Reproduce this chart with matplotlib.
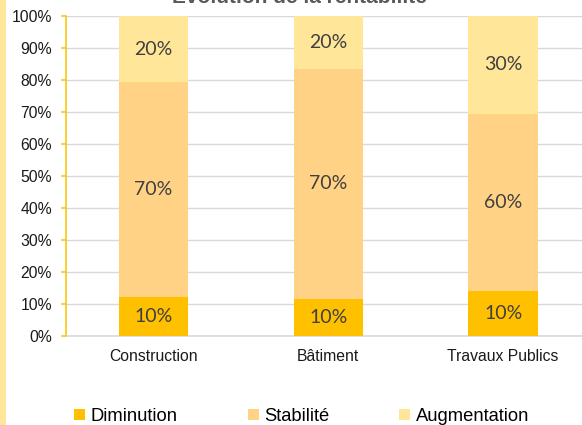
import matplotlib
matplotlib.use("Agg")
import matplotlib.pyplot as plt
from matplotlib.patches import Rectangle, Patch

categories = ["Construction", "Bâtiment", "Travaux Publics"]
series_names = ["Diminution", "Stabilité", "Augmentation"]
diminution = [12.2, 11.5, 14.1]
stabilite = [67.0, 72.0, 55.2]
augmentation = [20.8, 16.5, 30.7]
labels_dim = ["10%", "10%", "10%"]
labels_stab = ["70%", "70%", "60%"]
labels_aug = ["20%", "20%", "30%"]
yticks = [0, 10, 20, 30, 40, 50, 60, 70, 80, 90, 100]
ytick_labels = ["0%", "10%", "20%", "30%", "40%", "50%", "60%", "70%", "80%", "90%", "100%"]
title = "Évolution de la rentabilité"

colors = ["#FFC000", "#FFD285", "#FFE699"]

W, H = 582, 425
fig = plt.figure(figsize=(W / 100, H / 100), dpi=100)
ax = fig.add_axes([66 / W, 1 - 336 / H, (590.6 - 66) / W, (336 - 15.7) / H])

x = range(len(categories))
bw = 0.398
b1 = ax.bar(x, diminution, bw, color=colors[0], zorder=3)
bottom2 = diminution
b2 = ax.bar(x, stabilite, bw, bottom=bottom2, color=colors[1], zorder=3)
bottom3 = [a + b for a, b in zip(diminution, stabilite)]
b3 = ax.bar(x, augmentation, bw, bottom=bottom3, color=colors[2], zorder=3)

lab_font = dict(family="Lato", size=14, color="#404040")
for bars, labs in ((b1, labels_dim), (b2, labels_stab), (b3, labels_aug)):
    ax.bar_label(bars, labels=labs, label_type="center", **lab_font)

ax.set_xlim(-0.5, 2.5)
ax.set_ylim(0, 100)
ax.set_yticks(yticks)
ax.set_yticklabels(ytick_labels, family="Liberation Sans", size=11.3, color="#1a1a1a")
ax.set_xticks(list(x))
ax.set_xticklabels(categories, family="Liberation Sans", size=11.3, color="#1a1a1a")
ax.tick_params(axis="x", length=0, pad=9.5)
ax.tick_params(axis="y", length=3.6, width=1.1, color="#FFC000", pad=6.5, direction="out")

ax.grid(axis="y", color="#D9D9D9", lw=1.0, zorder=0)
ax.set_axisbelow(True)
for s in ("top", "right"):
    ax.spines[s].set_visible(False)
ax.spines["left"].set_color("#FFC000")
ax.spines["left"].set_linewidth(1.1)
ax.spines["left"].set_zorder(4)
ax.spines["bottom"].set_color("#D9D9D9")
ax.spines["bottom"].set_linewidth(1.2)

fig.text(299 / W, 1 - 3.3 / H, title, ha="center", va="baseline",
         family="Liberation Sans", weight="bold", size=15, color="#595959")

fig.patches.append(Rectangle((0, 0), 6 / W, 1, transform=fig.transFigure,
                             facecolor="#FFE699", edgecolor="none"))

handles = [Patch(facecolor=c, edgecolor="none") for c in colors]
fig.legend(handles, series_names, loc="center", bbox_to_anchor=(301.7 / W, 1 - 416.5 / H),
           ncol=3, frameon=False, prop=dict(family="Liberation Sans", size=13.2),
           handlelength=0.6, handleheight=0.6, handletextpad=0.3, columnspacing=3.8,
           borderpad=0, borderaxespad=0, labelcolor="#000000")

fig.savefig("out.png", dpi=100)
